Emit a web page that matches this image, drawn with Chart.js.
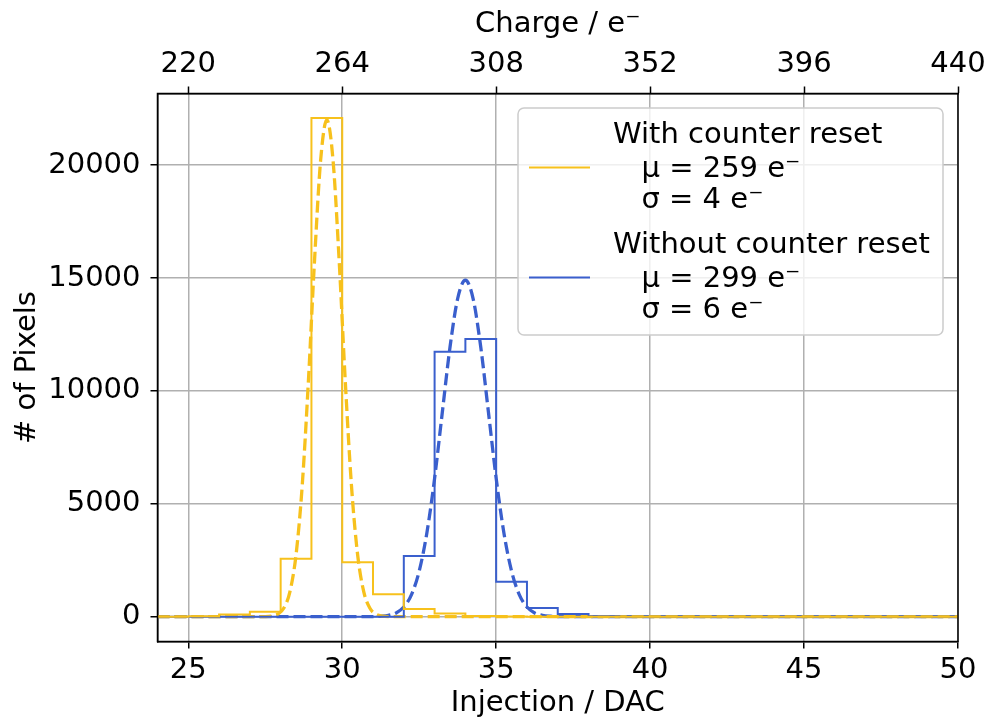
<!DOCTYPE html>
<html>
<head>
<meta charset="utf-8">
<script src="https://cdn.jsdelivr.net/npm/chart.js@4/dist/chart.umd.min.js"></script>
<style>
  body { margin: 0; background: #fff; }
  canvas { display: block; }
</style>
</head>
<body>
<canvas id="histChart" width="987" height="721"></canvas>
<script>
// bin edges (DAC) and counts per bin
const binEdges = [24, 25, 26, 27, 28, 29, 30, 31, 32, 33, 34, 35, 36, 37, 38, 39, 40, 41, 42, 43, 44, 45, 46, 47, 48, 49, 50];
const withResetCounts = [0, 20, 100, 220, 2560, 22080, 2410, 990, 340, 140, 30, 10, 0, 0, 0, 0, 0, 0, 0, 0, 0, 0, 0, 0, 0, 0];
const withoutResetCounts = [0, 0, 0, 0, 0, 0, 0, 0, 2690, 11730, 12300, 1550, 380, 120, 20, 0, 0, 0, 0, 0, 0, 0, 0, 0, 0, 0];

// gaussian fit curves (dashed)
const withResetFitX = [24, 26, 27, 27.5, 27.7, 27.9, 28.1, 28.3, 28.5, 28.7, 28.9, 29.1, 29.3, 29.5, 29.7, 29.9, 30.1, 30.3, 30.5, 30.7, 30.9, 31.1, 31.3, 31.5, 32, 35, 50];
const withResetFitY = [0, 0, 0, 5, 26, 107, 371, 1100, 2740, 5800, 10400, 15770, 20240, 22000, 20240, 15770, 10400, 5800, 2740, 1100, 371, 107, 26, 5, 0, 0, 0];
const withoutResetFitX = [24, 30, 30.75, 31, 31.25, 31.5, 31.75, 32, 32.25, 32.5, 32.75, 33, 33.25, 33.5, 33.75, 34, 34.25, 34.5, 34.75, 35, 35.25, 35.5, 35.75, 36, 36.25, 36.5, 36.75, 37, 37.25, 38, 50];
const withoutResetFitY = [0, 0, 1, 5, 18, 58, 165, 426, 979, 2017, 3716, 6125, 9040, 11930, 14090, 14900, 14090, 11930, 9040, 6125, 3716, 2017, 979, 426, 165, 58, 18, 5, 1, 0, 0];

const dacTicks = [25, 30, 35, 40, 45, 50];
const chargeTicks = [220, 264, 308, 352, 396, 440];
const pixelTicks = [0, 5000, 10000, 15000, 20000];

const seriesNames = ['With counter reset', 'Without counter reset'];
const seriesMu = [259, 299];
const seriesSigma = [4, 6];
const seriesColors = ['#f7c11c', '#3a5fcd'];

const FONT = 'DejaVu Sans';
const FS = 29;

Chart.defaults.font.family = FONT;
Chart.defaults.font.size = FS;
Chart.defaults.color = '#000';

const stepData = (counts) => {
    let pts = [{x: binEdges[0], y: 0}];
    counts.forEach((c, i) => pts.push({x: binEdges[i], y: c}));
    pts.push({x: binEdges[binEdges.length - 1], y: 0});
    return pts;
};
const curveData = (xs, ys) => xs.map((x, i) => ({x: x, y: ys[i]}));

// no extra room for overflowing tick labels, the page padding handles it
const fixHorizontal = (h) => (s) => { s.height = h; s.paddingLeft = 0; s.paddingRight = 0; };

const frameAndLegend = {
    id: 'frameAndLegend',
    afterDatasetsDraw(chart) {
        const {ctx, chartArea: a} = chart;
        ctx.save();
        ctx.strokeStyle = '#000';
        ctx.lineWidth = 1.5;
        ctx.strokeRect(a.left, a.top, a.right - a.left, a.bottom - a.top);
        ctx.restore();
    },
    afterDraw(chart) {
        const {ctx, chartArea: a} = chart;
        const bx = a.right - 440, by = a.top + 14.5, bw = 425, bh = 227;
        ctx.save();
        ctx.beginPath();
        ctx.roundRect(bx, by, bw, bh, 6);
        ctx.fillStyle = 'rgba(255,255,255,0.8)';
        ctx.fill();
        ctx.strokeStyle = '#cccccc';
        ctx.lineWidth = 1.5;
        ctx.stroke();

        ctx.font = FS + 'px "' + FONT + '"';
        ctx.fillStyle = '#000';
        ctx.textBaseline = 'middle';
        ctx.textAlign = 'left';
        seriesNames.forEach((name, i) => {
            const top = by + i * 110;
            ctx.strokeStyle = seriesColors[i];
            ctx.lineWidth = 2;
            ctx.beginPath();
            ctx.moveTo(bx + 11, top + 59.5);
            ctx.lineTo(bx + 72, top + 59.5);
            ctx.stroke();
            ctx.fillText(name, bx + 95, top + 27.5);
            ctx.fillText('\u03bc = ' + seriesMu[i] + ' e\u207b', bx + 123.5, top + 61.5);
            ctx.fillText('\u03c3 = ' + seriesSigma[i] + ' e\u207b', bx + 123.5, top + 92.5);
        });
        ctx.restore();
    }
};

const ctx = document.getElementById('histChart').getContext('2d');
const histChart = new Chart(ctx, {
    type: 'line',
    data: {
        datasets: [
            {
                data: stepData(withResetCounts),
                borderColor: seriesColors[0],
                borderWidth: 2,
                stepped: 'before',
                pointRadius: 0
            },
            {
                data: stepData(withoutResetCounts),
                borderColor: seriesColors[1],
                borderWidth: 2,
                stepped: 'before',
                pointRadius: 0
            },
            {
                data: curveData(withResetFitX, withResetFitY),
                borderColor: seriesColors[0],
                borderWidth: 3.3,
                borderDash: [12, 5],
                cubicInterpolationMode: 'monotone',
                pointRadius: 0
            },
            {
                data: curveData(withoutResetFitX, withoutResetFitY),
                borderColor: seriesColors[1],
                borderWidth: 3.3,
                borderDash: [12, 5],
                cubicInterpolationMode: 'monotone',
                pointRadius: 0
            }
        ]
    },
    options: {
        responsive: false,
        animation: false,
        devicePixelRatio: 1,
        layout: { padding: { left: 0, right: 29, top: 0, bottom: 0 } },
        plugins: { legend: { display: false }, tooltip: { enabled: false } },
        scales: {
            x: {
                type: 'linear',
                position: 'bottom',
                min: 24,
                max: 50,
                afterBuildTicks: (s) => { s.ticks = dacTicks.map(v => ({value: v})); },
                afterFit: fixHorizontal(79.5),
                ticks: { autoSkip: false, maxRotation: 0, padding: 5 },
                grid: { color: '#b0b0b0', lineWidth: 1.5, tickColor: '#000', tickLength: 7, tickWidth: 1.5 },
                border: { color: '#000', width: 1.5 },
                title: { display: true, text: 'Injection / DAC', padding: 0 }
            },
            x2: {
                type: 'linear',
                position: 'top',
                min: 24 * 8.8,
                max: 440,
                afterBuildTicks: (s) => { s.ticks = chargeTicks.map(v => ({value: v})); },
                afterFit: fixHorizontal(93.5),
                ticks: { autoSkip: false, maxRotation: 0, padding: 5 },
                grid: { drawOnChartArea: false, tickColor: '#000', tickLength: 7, tickWidth: 1.5 },
                border: { color: '#000', width: 1.5 },
                title: { display: true, text: 'Charge / e\u207b', padding: { top: 7, bottom: 0 } }
            },
            y: {
                type: 'linear',
                min: -1100,
                max: 23170,
                afterBuildTicks: (s) => { s.ticks = pixelTicks.map(v => ({value: v})); },
                afterFit: (s) => { s.width = 157.5; },
                ticks: { padding: 10, callback: (v) => String(v) },
                grid: { color: '#b0b0b0', lineWidth: 1.5, tickColor: '#000', tickLength: 7, tickWidth: 1.5 },
                border: { color: '#000', width: 1.5 },
                title: { display: true, text: '# of Pixels', padding: { top: 10, bottom: 0 } }
            }
        }
    },
    plugins: [frameAndLegend]
});
</script>
</body>
</html>
